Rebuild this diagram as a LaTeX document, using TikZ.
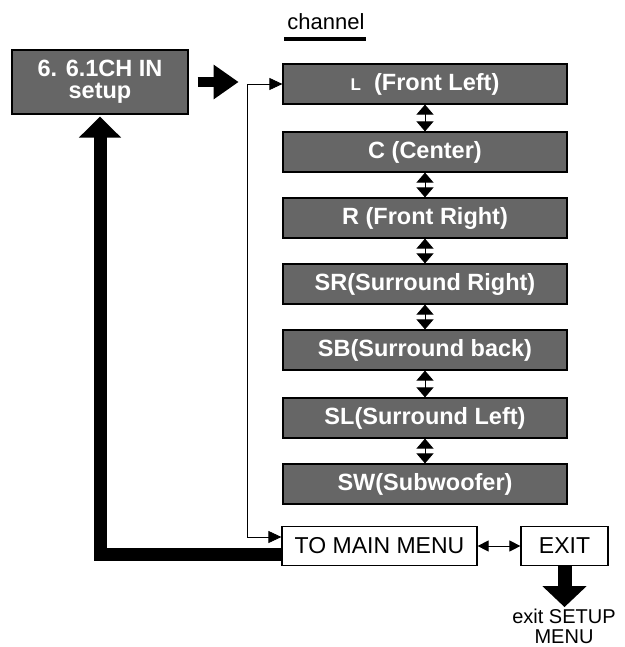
\documentclass[tikz,border=0pt]{standalone}
\usepackage{fontspec}
\setmainfont{Liberation Sans}
\usetikzlibrary{arrows.meta}
\definecolor{boxgray}{RGB}{102,102,102}
\tikzset{
  chbox/.style={draw=black, line width=1.2pt, fill=boxgray, text=white,
    minimum width=284pt, minimum height=40pt, inner sep=0pt,
    font=\bfseries\fontsize{23.5}{24}\selectfont},
  setupbox/.style={draw=black, line width=1.2pt, fill=boxgray, text=white,
    minimum width=176pt, minimum height=64pt, inner sep=0pt, align=center,
    font=\bfseries\fontsize{23.5}{22}\selectfont},
  menubox/.style={draw=black, line width=1.2pt, fill=white,
    minimum height=39pt, inner sep=0pt, font=\fontsize{23}{24}\selectfont},
  plaintext/.style={inner sep=0pt, align=center, font=\fontsize{22}{19}\selectfont},
  exitlabel/.style={inner sep=0pt, align=center, font=\fontsize{20}{19.5}\selectfont},
  dbl/.style={line width=1pt, {Triangle[width=17pt,length=10pt]}-{Triangle[width=17pt,length=10pt]}},
  thinarrow/.style={line width=0.8pt, {Triangle[width=12pt,length=13pt]}-{Triangle[width=12pt,length=13pt]}},
  smalldbl/.style={line width=1pt, {Triangle[width=11pt,length=11pt]}-{Triangle[width=11pt,length=11pt]}},
  fatup/.style={line width=13pt, line join=miter, -{Triangle[width=41pt,length=21pt]}},
  fatright/.style={line width=10.5pt, -{Triangle[width=33pt,length=25pt]}},
  fatdown/.style={line width=14pt, -{Triangle[width=43pt,length=21pt]}}
}
\begin{document}
\begin{tikzpicture}[x=1pt,y=-1pt]
\useasboundingbox (0,0) rectangle (624,647);

% channel heading
\node[plaintext] (chan) at (326,22) {channel};
\draw[line width=4pt] (284,39) -- (366,39);

% setup box
\node[setupbox] (setup) at (100,82) {6. 6.1CH IN\\setup};

% channel boxes
\node[chbox] (L)  at (425,84)  {{\fontsize{17}{17}\selectfont L}\ \ (Front Left)};
\node[chbox] (C)  at (425,152) {C (Center)};
\node[chbox] (R)  at (425,218) {R (Front Right)};
\node[chbox] (SR) at (425,284) {SR(Surround Right)};
\node[chbox] (SB) at (425,350) {SB(Surround back)};
\node[chbox] (SL) at (425,418) {SL(Surround Left)};
\node[chbox] (SW) at (425,484) {SW(Subwoofer)};

\draw[dbl] (L.south) -- (C.north);
\draw[dbl] (C.south) -- (R.north);
\draw[dbl] (R.south) -- (SR.north);
\draw[dbl] (SR.south) -- (SB.north);
\draw[dbl] (SB.south) -- (SL.north);
\draw[dbl] (SL.south) -- (SW.north);

% menu boxes
\node[menubox, minimum width=195pt] (tomain) at (379.5,546) {TO MAIN MENU};
\node[menubox, minimum width=87pt] (exit) at (564.5,546) {EXIT};
\draw[smalldbl] (tomain.east) -- (exit.west);

% thin loop line
\coordinate (bend) at (247,537);
\draw[thinarrow] (L.west) -| (bend) -- ([yshift=9pt]tomain.west);

% fat arrows
\draw[fatright] ([xshift=9pt]setup.east) -- ++(41,0) coordinate (fr);
\draw[fatup] ([yshift=-8pt]tomain.west) -| ([yshift=-2pt]setup.south);
\draw[fatdown] (exit.south) -- ++(0,41) coordinate (fd);

% exit text
\node[exitlabel, anchor=north] (exittext) at (564,609) {exit SETUP\\MENU};
\end{tikzpicture}
\end{document}
